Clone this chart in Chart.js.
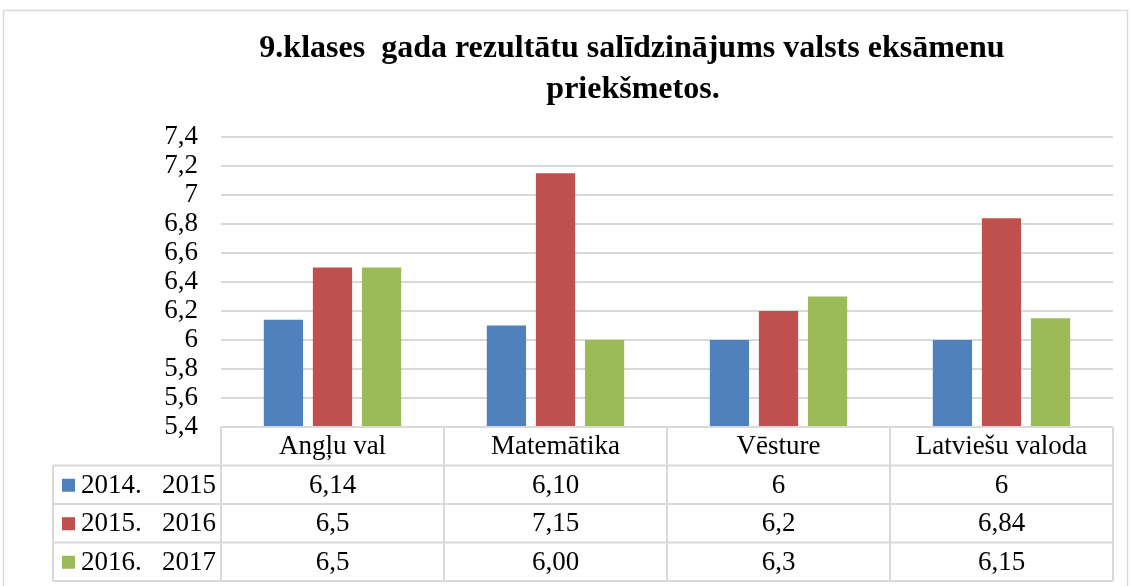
<!DOCTYPE html>
<html lang="lv">
<head>
    <meta charset="UTF-8">
    <title>9.klases gada rezultātu salīdzinājums</title>
    <script src="https://cdn.jsdelivr.net/npm/chart.js"></script>
    <style>
        body { margin: 0; background: #fff; }
        #wrap { width: 1130px; height: 586px; }
    </style>
</head>
<body>
    <div id="wrap"><canvas id="chart" width="1130" height="586"></canvas></div>
    <script>
        // dati
        const subjects = ['Angļu val', 'Matemātika', 'Vēsture', 'Latviešu valoda'];
        const seriesNames = ['2014.   2015', '2015.   2016', '2016.   2017'];
        const values2015 = [6.14, 6.10, 6, 6];
        const values2016 = [6.5, 7.15, 6.2, 6.84];
        const values2017 = [6.5, 6.00, 6.3, 6.15];
        const text2015 = ['6,14', '6,10', '6', '6'];
        const text2016 = ['6,5', '7,15', '6,2', '6,84'];
        const text2017 = ['6,5', '6,00', '6,3', '6,15'];
        const colors = ['#4F81BD', '#C0504D', '#9BBB59'];
        const titleLines = ['9.klases  gada rezultātu salīdzinājums valsts eksāmenu', 'priekšmetos.'];

        const serif = "'Liberation Serif', 'Times New Roman', serif";
        const gridColor = '#d9d9d9';

        // virsraksts, rāmis un datu tabula
        const extras = {
            id: 'extras',
            beforeDraw(chart) {
                const c = chart.ctx;
                c.save();
                c.strokeStyle = gridColor;
                c.lineWidth = 1.5;
                c.strokeRect(3.5, 10.5, 1124, 600);
                c.fillStyle = '#000';
                c.font = 'bold 32px ' + serif;
                c.textAlign = 'center';
                c.textBaseline = 'alphabetic';
                c.fillText(titleLines[0], 632, 57);
                c.fillText(titleLines[1], 633, 98);
                c.restore();
            },
            afterDraw(chart) {
                const c = chart.ctx;
                const area = chart.chartArea;
                const colW = (area.right - area.left) / subjects.length;
                const rowH = 38.5;
                const top = area.bottom;
                const leftX = 53;
                const texts = [text2015, text2016, text2017];
                c.save();
                c.strokeStyle = gridColor;
                c.lineWidth = 2;
                c.beginPath();
                // header row
                c.moveTo(area.left, top); c.lineTo(area.right, top);
                for (let r = 1; r <= 4; r++) {
                    c.moveTo(leftX, top + r * rowH); c.lineTo(area.right, top + r * rowH);
                }
                for (let i = 0; i <= subjects.length; i++) {
                    const x = area.left + i * colW;
                    c.moveTo(x, top); c.lineTo(x, top + 4 * rowH);
                }
                c.moveTo(leftX, top + rowH); c.lineTo(leftX, top + 4 * rowH);
                c.stroke();

                c.fillStyle = '#000';
                c.font = '27px ' + serif;
                c.textAlign = 'center';
                c.textBaseline = 'middle';
                subjects.forEach((s, i) => {
                    c.fillText(s, area.left + (i + 0.5) * colW, top + rowH / 2 + 1);
                });
                texts.forEach((row, r) => {
                    const y = top + (r + 1.5) * rowH + 1;
                    row.forEach((t, i) => {
                        c.fillText(t, area.left + (i + 0.5) * colW, y);
                    });
                    c.fillStyle = colors[r];
                    c.fillRect(62, y - 7, 13, 13);
                    c.fillStyle = '#000';
                    c.textAlign = 'left';
                    c.fillText(seriesNames[r], 81, y);
                    c.textAlign = 'center';
                });
                c.restore();
            }
        };

        new Chart(document.getElementById('chart'), {
            type: 'bar',
            data: {
                labels: subjects,
                datasets: [
                    { label: seriesNames[0], data: values2015, backgroundColor: colors[0] },
                    { label: seriesNames[1], data: values2016, backgroundColor: colors[1] },
                    { label: seriesNames[2], data: values2017, backgroundColor: colors[2] }
                ]
            },
            options: {
                responsive: false,
                animation: false,
                categoryPercentage: 0.66,
                barPercentage: 0.8,
                layout: { padding: { top: 137, right: 17, bottom: 159, left: 0 } },
                plugins: {
                    legend: { display: false },
                    title: { display: false },
                    tooltip: { enabled: false }
                },
                scales: {
                    x: { display: false },
                    y: {
                        min: 5.4,
                        max: 7.4,
                        border: { display: false },
                        grid: { color: gridColor, lineWidth: 2, drawTicks: false },
                        afterFit(scale) { scale.width = 221; },
                        ticks: {
                            stepSize: 0.2,
                            autoSkip: false,
                            padding: 23,
                            color: '#000',
                            font: { family: serif, size: 27 },
                            callback: v => String(Math.round(v * 10) / 10).replace('.', ',')
                        }
                    }
                }
            },
            plugins: [extras]
        });
    </script>
</body>
</html>
